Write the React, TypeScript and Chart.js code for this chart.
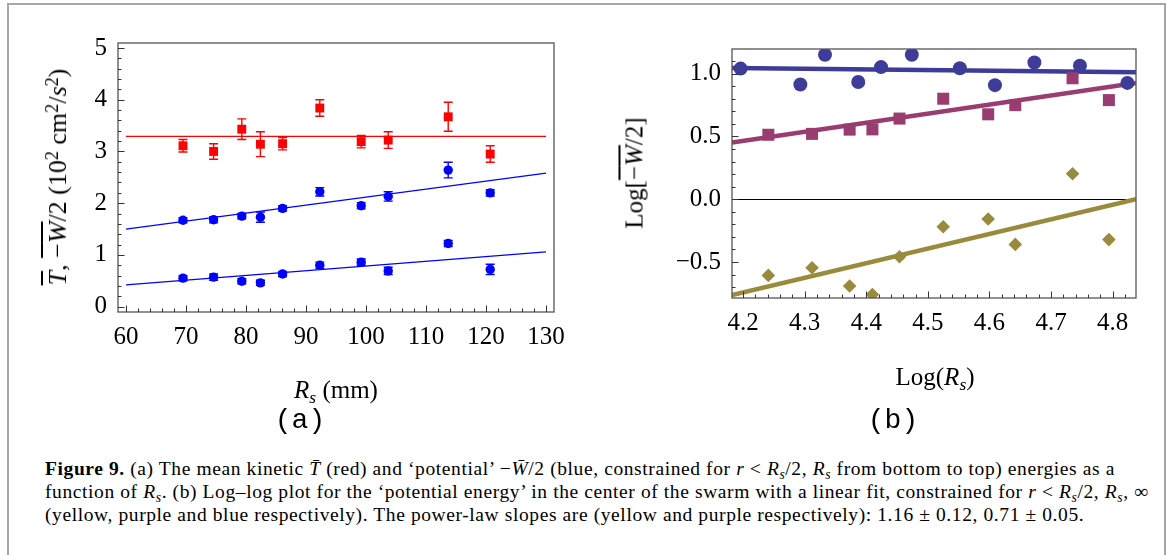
import React, { useEffect, useRef } from 'react';
import { Chart, registerables } from 'chart.js';
Chart.register(...registerables);

// ---------- Panel (a) data ----------
const rsMm = [69.5, 74.6, 79.3, 82.4, 86.1, 92.3, 99.2, 103.7, 113.7, 120.7];
const kineticT = [3.11, 3.0, 3.43, 3.14, 3.15, 3.84, 3.19, 3.22, 3.67, 2.95];
const kineticErr = [0.12, 0.15, 0.2, 0.24, 0.12, 0.16, 0.12, 0.16, 0.28, 0.16];
const potentialRs = [1.67, 1.68, 1.75, 1.73, 1.9, 2.22, 1.95, 2.13, 2.64, 2.2];
const potentialRsErr = [0.05, 0.06, 0.05, 0.1, 0.05, 0.08, 0.06, 0.09, 0.15, 0.06];
const potentialHalf = [0.55, 0.57, 0.49, 0.46, 0.63, 0.8, 0.86, 0.69, 1.22, 0.72];
const potentialHalfErr = [0.05, 0.06, 0.05, 0.05, 0.05, 0.06, 0.06, 0.07, 0.06, 0.1];
const fitXA = [60, 130];
const fitKinetic = [3.29, 3.29];
const fitPotRs = [1.5, 2.58];
const fitPotHalf = [0.42, 1.06];
const xTicksA = [60, 70, 80, 90, 100, 110, 120, 130];
const yTicksA = [0, 1, 2, 3, 4, 5];

// ---------- Panel (b) data ----------
const logRsInf = [4.196, 4.293, 4.333, 4.387, 4.424, 4.474, 4.552, 4.609, 4.673, 4.747, 4.824];
const logWInf = [1.04, 0.913, 1.15, 0.933, 1.052, 1.15, 1.043, 0.908, 1.089, 1.063, 0.926];
const logRs = [4.241, 4.312, 4.373, 4.41, 4.454, 4.525, 4.598, 4.642, 4.735, 4.794];
const logWRs = [0.513, 0.52, 0.554, 0.556, 0.642, 0.8, 0.676, 0.749, 0.963, 0.789];
const logWHalf = [-0.607, -0.546, -0.692, -0.759, -0.458, -0.219, -0.158, -0.36, 0.202, -0.322];
const fitXB = [4.182, 4.838];
const fitInf = [1.045, 1.01];
const fitRs = [0.452, 0.926];
const fitHalf = [-0.763, 0.0];
const xTicksB = [4.2, 4.3, 4.4, 4.5, 4.6, 4.7, 4.8];
const yTicksB = [-0.5, 0, 0.5, 1.0];

const SERIF = '"Liberation Serif", "Times New Roman", serif';
const MONO = '"Liberation Mono", "DejaVu Sans Mono", monospace';

const pts = (xs: number[], ys: number[]) => xs.map((x, i) => ({ x, y: ys[i] }));

type ErrBar = { x: number[]; y: number[]; err: number[]; color: string };
type DecoCfg = {
  xMinorStep: number;
  yMinorStep: number;
  xMajor: number[];
  yMajor: number[];
  zeroLine?: boolean;
  errorBars?: ErrBar[];
};

function makeDeco(cfg: DecoCfg) {
  return {
    id: 'deco',
    beforeDatasetsDraw(chart: any) {
      const { ctx, chartArea, scales } = chart;
      const xs = scales.x;
      const ys = scales.y;
      ctx.save();
      if (cfg.zeroLine) {
        const py = Math.round(ys.getPixelForValue(0)) + 0.5;
        ctx.strokeStyle = '#000';
        ctx.lineWidth = 1;
        ctx.beginPath();
        ctx.moveTo(chartArea.left, py);
        ctx.lineTo(chartArea.right, py);
        ctx.stroke();
      }
      (cfg.errorBars || []).forEach((eb) => {
        ctx.strokeStyle = eb.color;
        ctx.lineWidth = 1.4;
        const cap = 4.5;
        eb.x.forEach((xv, i) => {
          const px = xs.getPixelForValue(xv);
          const y1 = ys.getPixelForValue(eb.y[i] - eb.err[i]);
          const y2 = ys.getPixelForValue(eb.y[i] + eb.err[i]);
          ctx.beginPath();
          ctx.moveTo(px, y1);
          ctx.lineTo(px, y2);
          ctx.moveTo(px - cap, y1);
          ctx.lineTo(px + cap, y1);
          ctx.moveTo(px - cap, y2);
          ctx.lineTo(px + cap, y2);
          ctx.stroke();
        });
      });
      ctx.restore();
    },
    afterDatasetsDraw(chart: any) {
      const { ctx, chartArea, scales } = chart;
      const { left, right, top, bottom } = chartArea;
      const xs = scales.x;
      const ys = scales.y;
      ctx.save();
      ctx.strokeStyle = '#555';
      ctx.lineWidth = 1.3;
      ctx.strokeRect(left, top, right - left, bottom - top);
      ctx.lineWidth = 1;
      ctx.strokeStyle = '#333';
      const isMajor = (v: number, majors: number[], step: number) =>
        majors.some((m) => Math.abs(m - v) < step / 4);
      const xStart = Math.ceil(xs.min / cfg.xMinorStep - 1e-9);
      for (let k = xStart; k * cfg.xMinorStep <= xs.max + 1e-9; k++) {
        const v = k * cfg.xMinorStep;
        const px = Math.round(xs.getPixelForValue(v)) + 0.5;
        const len = isMajor(v, cfg.xMajor, cfg.xMinorStep) ? 6.5 : 3.5;
        ctx.beginPath();
        ctx.moveTo(px, bottom);
        ctx.lineTo(px, bottom - len);
        ctx.stroke();
      }
      const yStart = Math.ceil(ys.min / cfg.yMinorStep - 1e-9);
      for (let k = yStart; k * cfg.yMinorStep <= ys.max + 1e-9; k++) {
        const v = k * cfg.yMinorStep;
        const py = Math.round(ys.getPixelForValue(v)) + 0.5;
        const len = isMajor(v, cfg.yMajor, cfg.yMinorStep) ? 6.5 : 3.5;
        ctx.beginPath();
        ctx.moveTo(left, py);
        ctx.lineTo(left + len, py);
        ctx.stroke();
      }
      ctx.restore();
    },
  };
}

function axisCommon(min: number, max: number, ticks: number[], size: number, horizontal: boolean, fmt: (v: number) => string) {
  return {
    type: 'linear',
    min,
    max,
    grid: { display: false, drawTicks: false },
    border: { display: false },
    ticks: {
      color: '#000',
      font: { family: SERIF, size: 25 },
      padding: horizontal ? 10 : 11,
      autoSkip: false,
      maxRotation: 0,
      callback: (v: number) => fmt(v),
    },
    afterBuildTicks: (s: any) => {
      s.ticks = ticks.map((v) => ({ value: v }));
    },
    afterFit: (s: any) => {
      if (horizontal) s.height = size;
      else s.width = size;
    },
  };
}

function PanelA() {
  const ref = useRef<HTMLCanvasElement>(null);
  useEffect(() => {
    const red = '#ff0000';
    const blue = '#0000ff';
    const chart = new Chart(ref.current as HTMLCanvasElement, {
      type: 'scatter',
      data: {
        datasets: [
          { data: pts(rsMm, kineticT), pointStyle: 'rect', pointRadius: 6.3, backgroundColor: red, borderWidth: 0 },
          { data: pts(rsMm, potentialRs), pointStyle: 'circle', pointRadius: 4.7, backgroundColor: blue, borderWidth: 0 },
          { data: pts(rsMm, potentialHalf), pointStyle: 'circle', pointRadius: 4.7, backgroundColor: blue, borderWidth: 0 },
          { data: pts(fitXA, fitKinetic), showLine: true, pointRadius: 0, borderColor: red, borderWidth: 1.3 },
          { data: pts(fitXA, fitPotRs), showLine: true, pointRadius: 0, borderColor: blue, borderWidth: 1.3 },
          { data: pts(fitXA, fitPotHalf), showLine: true, pointRadius: 0, borderColor: blue, borderWidth: 1.3 },
        ] as any,
      },
      options: {
        animation: false,
        responsive: false,
        events: [],
        layout: { padding: { left: 0, right: 36, top: 43, bottom: 0 } },
        plugins: { legend: { display: false }, tooltip: { enabled: false } },
        scales: {
          x: axisCommon(58.67, 131.33, xTicksA, 138, true, (v) => String(v)),
          y: axisCommon(-0.104, 5.097, yTicksA, 118, false, (v) => String(v)),
        } as any,
      },
      plugins: [
        makeDeco({
          xMinorStep: 2,
          yMinorStep: 0.2,
          xMajor: xTicksA,
          yMajor: yTicksA,
          errorBars: [
            { x: rsMm, y: kineticT, err: kineticErr, color: red },
            { x: rsMm, y: potentialRs, err: potentialRsErr, color: blue },
            { x: rsMm, y: potentialHalf, err: potentialHalfErr, color: blue },
          ],
        }),
      ],
    });
    return () => chart.destroy();
  }, []);
  return <canvas ref={ref} width={590} height={450} style={{ position: 'absolute', left: 0, top: 0 }} />;
}

function PanelB() {
  const ref = useRef<HTMLCanvasElement>(null);
  useEffect(() => {
    const cBlue = '#3d3d99';
    const cPurple = '#993d71';
    const cYellow = '#998b3d';
    const chart = new Chart(ref.current as HTMLCanvasElement, {
      type: 'scatter',
      data: {
        datasets: [
          { data: pts(logRsInf, logWInf), pointStyle: 'circle', pointRadius: 7, backgroundColor: cBlue, borderWidth: 0 },
          { data: pts(logRs, logWRs), pointStyle: 'rect', pointRadius: 8.5, backgroundColor: cPurple, borderWidth: 0 },
          { data: pts(logRs, logWHalf), pointStyle: 'rectRot', pointRadius: 6.8, backgroundColor: cYellow, borderWidth: 0 },
          { data: pts(fitXB, fitInf), showLine: true, pointRadius: 0, borderColor: cBlue, borderWidth: 4.5 },
          { data: pts(fitXB, fitRs), showLine: true, pointRadius: 0, borderColor: cPurple, borderWidth: 4.5 },
          { data: pts(fitXB, fitHalf), showLine: true, pointRadius: 0, borderColor: cYellow, borderWidth: 4.5 },
        ] as any,
      },
      options: {
        animation: false,
        responsive: false,
        events: [],
        layout: { padding: { left: 0, right: 32, top: 49, bottom: 0 } },
        plugins: { legend: { display: false }, tooltip: { enabled: false } },
        scales: {
          x: axisCommon(4.182, 4.838, xTicksB, 152, true, (v) => v.toFixed(1)),
          y: axisCommon(-0.787, 1.196, yTicksB, 142, false, (v) => (v < 0 ? '\u2212' + Math.abs(v).toFixed(1) : v.toFixed(1))),
        } as any,
      },
      plugins: [
        makeDeco({
          xMinorStep: 0.02,
          yMinorStep: 0.1,
          xMajor: xTicksB,
          yMajor: yTicksB,
          zeroLine: true,
        }),
      ],
    });
    return () => chart.destroy();
  }, []);
  return <canvas ref={ref} width={578} height={450} style={{ position: 'absolute', left: 590, top: 0 }} />;
}

const center = (x: number, y: number, rot = 0): React.CSSProperties => ({
  position: 'absolute',
  left: x,
  top: y,
  transform: `translate(-50%, -50%) rotate(${rot}deg)`,
  whiteSpace: 'nowrap',
  fontFamily: SERIF,
  color: '#000',
  lineHeight: 1,
});

const sub: React.CSSProperties = { fontSize: '0.7em', position: 'relative', top: '0.3em', verticalAlign: 'baseline' };
const sup: React.CSSProperties = { fontSize: '0.7em', position: 'relative', top: '-0.45em', verticalAlign: 'baseline' };
const over: React.CSSProperties = { textDecoration: 'overline' };

function Caption() {
  const line = (top: number): React.CSSProperties => ({
    position: 'absolute',
    left: 45,
    top,
    whiteSpace: 'nowrap',
    fontFamily: SERIF,
    fontSize: 19.5,
    letterSpacing: '0.6px',
    lineHeight: '23px',
    color: '#000',
  });
  const Rs = (
    <i>
      R<span style={sub}>s</span>
    </i>
  );
  return (
    <>
      <div style={line(457)}>
        <b>Figure 9.</b> (a) The mean kinetic <i>T̄</i> (red) and ‘potential’ −<i>W̄</i>/2 (blue, constrained for <i>r</i> &lt; {Rs}/2, {Rs} from bottom to top) energies as a
      </div>
      <div style={line(480)}>
        function of {Rs}. (b) Log–log plot for the ‘potential energy’ in the center of the swarm with a linear fit, constrained for <i>r</i> &lt; {Rs}/2, {Rs}, ∞
      </div>
      <div style={line(503)}>
        (yellow, purple and blue respectively). The power-law slopes are (yellow and purple respectively): 1.16 ± 0.12, 0.71 ± 0.05.
      </div>
    </>
  );
}

export default function App() {
  return (
    <div style={{ position: 'absolute', left: 0, top: 0, width: 1168, height: 555, background: '#fff', overflow: 'hidden' }}>
      <div
        style={{
          position: 'absolute',
          left: 7,
          top: 3,
          width: 1155,
          height: 600,
          borderTop: '2px solid #a6a6a6',
          borderLeft: '2px solid #a6a6a6',
          borderRight: '2px solid #a6a6a6',
        }}
      />
      <PanelA />
      <PanelB />
      <div style={{ ...center(58, 177, -90), fontSize: 26 }}>
        <i style={over}>T</i>, <span style={over}>−<i>W</i></span>/2 (10<span style={sup}>2</span> cm<span style={sup}>2</span>/<i>s</i>
        <span style={sup}>2</span>)
      </div>
      <div style={{ ...center(336, 389), fontSize: 25 }}>
        <i>
          R<span style={sub}>s</span>
        </i>{' '}
        (mm)
      </div>
      <div style={{ ...center(300, 421), fontSize: 28, fontFamily: MONO }}>(a)</div>
      <div style={{ ...center(634, 173, -90), fontSize: 25 }}>
        Log[<span style={over}>−<i>W</i></span>/2]
      </div>
      <div style={{ ...center(935, 376), fontSize: 25 }}>
        Log(
        <i>
          R<span style={sub}>s</span>
        </i>
        )
      </div>
      <div style={{ ...center(893, 421), fontSize: 28, fontFamily: MONO }}>(b)</div>
      <Caption />
    </div>
  );
}
